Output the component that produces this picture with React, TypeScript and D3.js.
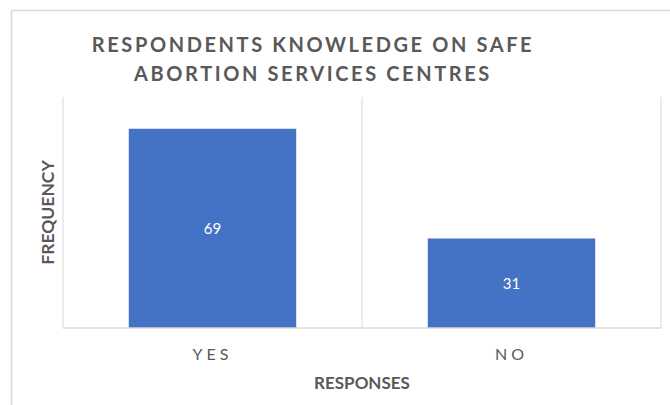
import React from "react";
import * as d3 from "d3";

const categories = ["YES", "NO"];
const values = [69, 31];
const yTicks = [0, 80];
const titleLines = ["RESPONDENTS KNOWLEDGE ON SAFE", "ABORTION SERVICES CENTRES"];
const xAxisTitle = "RESPONSES";
const yAxisTitle = "FREQUENCY";

const W = 670;
const H = 405;
const plot = { left: 63, right: 661, top: 97, bottom: 328 };
const FONT = "Lato, 'Open Sans', sans-serif";
const TEXT = "#595959";
const GRID = "#d9d9d9";
const BAR = "#4472C4";

export default function App() {
  const x = d3
    .scaleBand<string>()
    .domain(categories)
    .range([plot.left, plot.right])
    .paddingInner(0.44)
    .paddingOuter(0.22);
  const y = d3
    .scaleLinear()
    .domain([yTicks[0], yTicks[yTicks.length - 1]])
    .range([plot.bottom, plot.top]);
  const step = x.step();
  const boundaries = d3.range(categories.length + 1).map((i) => plot.left + i * step);

  return (
    <svg
      width={W}
      height={H}
      style={{ position: "absolute", left: 0, top: 0, background: "#fff" }}
    >
      <rect x={0} y={0} width={W} height={H} fill="#fff" />
      {/* outer frame */}
      <line x1={11.5} y1={10.5} x2={W} y2={10.5} stroke={GRID} strokeWidth={1.5} />
      <line x1={11.5} y1={10.5} x2={11.5} y2={H} stroke={GRID} strokeWidth={1.5} />

      {/* title */}
      {titleLines.map((t, i) => (
        <text
          key={i}
          x={313}
          y={52 + i * 29}
          textAnchor="middle"
          fontFamily={FONT}
          fontWeight={700}
          fontSize={20}
          letterSpacing={2.6}
          fill={TEXT}
        >
          {t}
        </text>
      ))}

      {/* gridlines */}
      {boundaries.map((bx, i) => (
        <line
          key={i}
          x1={bx}
          x2={bx}
          y1={plot.top}
          y2={plot.bottom}
          stroke={GRID}
          strokeWidth={1}
        />
      ))}

      {/* bars */}
      {categories.map((c, i) => (
        <g key={c}>
          <rect
            x={x(c)}
            y={y(values[i])}
            width={x.bandwidth()}
            height={y(0) - y(values[i])}
            fill={BAR}
          />
          <text
            x={(x(c) as number) + x.bandwidth() / 2}
            y={(y(values[i]) + y(0)) / 2}
            dy="0.36em"
            textAnchor="middle"
            fontFamily={FONT}
            fontSize={15}
            fill="#fff"
          >
            {values[i]}
          </text>
        </g>
      ))}

      {/* x axis line */}
      <line
        x1={plot.left}
        x2={plot.right}
        y1={plot.bottom}
        y2={plot.bottom}
        stroke={GRID}
        strokeWidth={1.5}
      />

      {/* category labels */}
      {categories.map((c) => (
        <text
          key={c}
          x={(x(c) as number) + x.bandwidth() / 2}
          y={360}
          textAnchor="middle"
          fontFamily={FONT}
          fontSize={16}
          letterSpacing={4}
          fill={TEXT}
        >
          {c}
        </text>
      ))}

      {/* axis titles */}
      <text
        x={(plot.left + plot.right) / 2}
        y={389}
        textAnchor="middle"
        fontFamily={FONT}
        fontWeight={700}
        fontSize={17}
        fill={TEXT}
      >
        {xAxisTitle}
      </text>
      <text
        transform={`translate(54, ${(plot.top + plot.bottom) / 2}) rotate(-90)`}
        textAnchor="middle"
        fontFamily={FONT}
        fontWeight={700}
        fontSize={17.5}
        fill={TEXT}
      >
        {yAxisTitle}
      </text>
    </svg>
  );
}
